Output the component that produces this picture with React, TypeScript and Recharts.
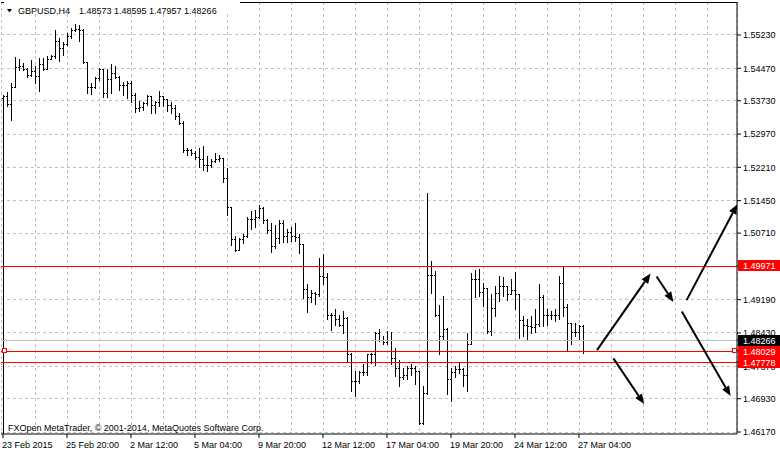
import React from 'react';
import { ComposedChart, Bar, XAxis, YAxis, CartesianGrid, ReferenceLine, ReferenceDot } from 'recharts';

const FONT = "'Liberation Sans', Arial, sans-serif";

const symbolTitle = 'GBPUSD,H4';
const lastBarQuote = '1.48573 1.48595 1.47957 1.48266';
const copyrightText = 'FXOpen MetaTrader, © 2001-2014, MetaQuotes Software Corp.';

// H4 bars, oldest first
const opens = [
  1.5379, 1.5382, 1.5365, 1.5404, 1.5449, 1.5451, 1.5445, 1.5430, 1.5439, 1.5429,
  1.5456, 1.5445, 1.5468, 1.5473, 1.5508, 1.5493, 1.5502, 1.5520, 1.5533, 1.5535,
  1.5533, 1.5460, 1.5404, 1.5404, 1.5424, 1.5445, 1.5390, 1.5422, 1.5436, 1.5427,
  1.5407, 1.5407, 1.5413, 1.5384, 1.5356, 1.5357, 1.5366, 1.5383, 1.5363, 1.5368,
  1.5382, 1.5375, 1.5363, 1.5356, 1.5336, 1.5322, 1.5259, 1.5259, 1.5252, 1.5244,
  1.5240, 1.5226, 1.5226, 1.5234, 1.5238, 1.5242, 1.5196, 1.5130, 1.5057, 1.5031,
  1.5057, 1.5064, 1.5101, 1.5102, 1.5107, 1.5126, 1.5099, 1.5078, 1.5040, 1.5059,
  1.5092, 1.5063, 1.5072, 1.5064, 1.5061, 1.5044, 1.4943, 1.4924, 1.4934, 1.4931,
  1.4972, 1.4969, 1.4884, 1.4882, 1.4873, 1.4861, 1.4877, 1.4794, 1.4733, 1.4732,
  1.4753, 1.4753, 1.4793, 1.4793, 1.4842, 1.4827, 1.4822, 1.4827, 1.4785, 1.4761,
  1.4741, 1.4747, 1.4761, 1.4761, 1.4755, 1.4637, 1.4705, 1.4975, 1.4974, 1.4882,
  1.4836, 1.4852, 1.4736, 1.4753, 1.4759, 1.4759, 1.4745, 1.4817, 1.4966, 1.4966,
  1.4936, 1.4945, 1.4846, 1.4898, 1.4934, 1.4949, 1.4949, 1.4930, 1.4941, 1.4930,
  1.4871, 1.4861, 1.4857, 1.4855, 1.4863, 1.4924, 1.4882, 1.4882, 1.4884, 1.4884,
  1.4956, 1.4901, 1.4865, 1.4845, 1.4845, 1.48573,
];
const highs = [
  1.5385, 1.5392, 1.5413, 1.5471, 1.5466, 1.5458, 1.5447, 1.5464, 1.5451, 1.5470,
  1.5470, 1.5473, 1.5476, 1.5534, 1.5514, 1.5506, 1.5527, 1.5537, 1.5547, 1.5544,
  1.5535, 1.5460, 1.5413, 1.5426, 1.5447, 1.5445, 1.5445, 1.5455, 1.5451, 1.5428,
  1.5414, 1.5418, 1.5418, 1.5390, 1.5371, 1.5369, 1.5386, 1.5383, 1.5371, 1.5394,
  1.5382, 1.5375, 1.5368, 1.5363, 1.5345, 1.5325, 1.5265, 1.5262, 1.5257, 1.5265,
  1.5268, 1.5245, 1.5239, 1.5253, 1.5249, 1.5242, 1.5219, 1.5130, 1.5064, 1.5059,
  1.5067, 1.5107, 1.5120, 1.5122, 1.5135, 1.5130, 1.5103, 1.5092, 1.5089, 1.5099,
  1.5099, 1.5080, 1.5084, 1.5093, 1.5067, 1.5044, 1.4953, 1.4939, 1.4936, 1.5012,
  1.5023, 1.4979, 1.4888, 1.4896, 1.4882, 1.4893, 1.4878, 1.4797, 1.4755, 1.4755,
  1.4772, 1.4793, 1.4797, 1.4845, 1.4852, 1.4835, 1.4846, 1.4845, 1.4808, 1.4781,
  1.4762, 1.4766, 1.4770, 1.4766, 1.4755, 1.4720, 1.5162, 1.5006, 1.4983, 1.4905,
  1.4926, 1.4854, 1.4762, 1.4766, 1.4776, 1.4762, 1.4842, 1.4979, 1.4985, 1.4989,
  1.4956, 1.4945, 1.4931, 1.4949, 1.4972, 1.4969, 1.4949, 1.4964, 1.4982, 1.4931,
  1.4880, 1.4873, 1.4880, 1.4896, 1.4953, 1.4928, 1.4896, 1.4892, 1.4896, 1.4972,
  1.4992, 1.4907, 1.4865, 1.4865, 1.4861, 1.48595,
];
const lows = [
  1.5363, 1.5359, 1.5327, 1.5403, 1.5443, 1.5441, 1.5426, 1.5428, 1.5413, 1.5395,
  1.5443, 1.5445, 1.5466, 1.5470, 1.5462, 1.5477, 1.5499, 1.5514, 1.5531, 1.5509,
  1.5458, 1.5390, 1.5388, 1.5400, 1.5420, 1.5380, 1.5380, 1.5390, 1.5424, 1.5397,
  1.5386, 1.5379, 1.5369, 1.5347, 1.5348, 1.5350, 1.5363, 1.5344, 1.5343, 1.5359,
  1.5359, 1.5348, 1.5345, 1.5331, 1.5318, 1.5254, 1.5249, 1.5248, 1.5238, 1.5221,
  1.5213, 1.5211, 1.5221, 1.5232, 1.5234, 1.5186, 1.5112, 1.5042, 1.5029, 1.5031,
  1.5048, 1.5061, 1.5080, 1.5084, 1.5105, 1.5092, 1.5069, 1.5026, 1.5036, 1.5048,
  1.5049, 1.5049, 1.5051, 1.5051, 1.5025, 1.4922, 1.4890, 1.4913, 1.4909, 1.4926,
  1.4953, 1.4873, 1.4848, 1.4861, 1.4857, 1.4842, 1.4777, 1.4709, 1.4698, 1.4728,
  1.4747, 1.4747, 1.4774, 1.4768, 1.4823, 1.4817, 1.4816, 1.4772, 1.4743, 1.4720,
  1.4736, 1.4736, 1.4747, 1.4726, 1.4635, 1.4635, 1.4702, 1.4934, 1.4880, 1.4795,
  1.4827, 1.4703, 1.4686, 1.4741, 1.4751, 1.4720, 1.4709, 1.4817, 1.4924, 1.4926,
  1.4903, 1.4842, 1.4838, 1.4880, 1.4914, 1.4926, 1.4916, 1.4930, 1.4896, 1.4831,
  1.4835, 1.4827, 1.4842, 1.4845, 1.4857, 1.4857, 1.4861, 1.4873, 1.4870, 1.4873,
  1.4880, 1.4802, 1.4817, 1.4835, 1.4827, 1.47957,
];
const closes = [
  1.5382, 1.5365, 1.5404, 1.5449, 1.5451, 1.5445, 1.5430, 1.5439, 1.5429, 1.5456,
  1.5445, 1.5468, 1.5473, 1.5508, 1.5493, 1.5502, 1.5520, 1.5533, 1.5535, 1.5533,
  1.5460, 1.5404, 1.5404, 1.5424, 1.5445, 1.5390, 1.5422, 1.5436, 1.5427, 1.5407,
  1.5407, 1.5413, 1.5384, 1.5356, 1.5357, 1.5366, 1.5383, 1.5363, 1.5368, 1.5382,
  1.5375, 1.5363, 1.5356, 1.5336, 1.5322, 1.5259, 1.5259, 1.5252, 1.5244, 1.5240,
  1.5226, 1.5226, 1.5234, 1.5238, 1.5242, 1.5196, 1.5130, 1.5057, 1.5031, 1.5057,
  1.5064, 1.5101, 1.5102, 1.5107, 1.5126, 1.5099, 1.5078, 1.5040, 1.5059, 1.5092,
  1.5063, 1.5072, 1.5064, 1.5061, 1.5044, 1.4943, 1.4924, 1.4934, 1.4931, 1.4972,
  1.4969, 1.4884, 1.4882, 1.4873, 1.4861, 1.4877, 1.4794, 1.4733, 1.4732, 1.4753,
  1.4753, 1.4793, 1.4793, 1.4842, 1.4827, 1.4822, 1.4827, 1.4785, 1.4761, 1.4741,
  1.4747, 1.4761, 1.4761, 1.4755, 1.4637, 1.4705, 1.4975, 1.4974, 1.4882, 1.4836,
  1.4852, 1.4736, 1.4753, 1.4759, 1.4759, 1.4745, 1.4817, 1.4966, 1.4966, 1.4936,
  1.4945, 1.4846, 1.4898, 1.4934, 1.4949, 1.4949, 1.4930, 1.4941, 1.4930, 1.4871,
  1.4861, 1.4857, 1.4855, 1.4863, 1.4924, 1.4882, 1.4882, 1.4884, 1.4884, 1.4956,
  1.4901, 1.4865, 1.4845, 1.4845, 1.4857, 1.48266,
];

const timeLabels = [
  '23 Feb 2015', '25 Feb 20:00', '2 Mar 12:00', '5 Mar 04:00', '9 Mar 20:00',
  '12 Mar 12:00', '17 Mar 04:00', '19 Mar 20:00', '24 Mar 12:00', '27 Mar 04:00',
];
const labelBars = [0, 16, 32, 48, 64, 80, 96, 112, 128, 144];
const gridBars = [8, 16, 24, 32, 40, 48, 56, 64, 72, 80, 88, 96, 104, 112, 120, 128, 136, 144, 152, 160, 168, 176];
const priceTicks = [1.5523, 1.5447, 1.5373, 1.5297, 1.5221, 1.5145, 1.5071, 1.4919, 1.4843, 1.4767, 1.4693, 1.4617];

const resistance = 1.49971;
const supportHigh = 1.48029;
const supportLow = 1.47778;
const bidPrice = 1.48266;

// price tags on the right scale (drawn after the plain tick labels so they sit on top)
const tagPrices = [resistance, bidPrice, supportHigh, supportLow];
const tagColors = ['#ff0000', '#000000', '#ff0000', '#ff0000'];

// drawn arrows: [bar position, price] start -> end
const arrowStarts = [[148.5, 1.4804], [163.4, 1.4972], [170.9, 1.4918], [169.7, 1.4892], [152.6, 1.4785]];
const arrowEnds = [[161.9, 1.4979], [167.6, 1.4914], [183.6, 1.5137], [181.9, 1.4699], [160.3, 1.4681]];

const SLOTS = 184; // bars plus the empty shift area on the right
const PRICE_MIN = 1.46125;
const PRICE_MAX = 1.55983;

const rows = Array.from({ length: SLOTS }, (_, i) =>
  i < opens.length
    ? { i, o: opens[i], h: highs[i], l: lows[i], c: closes[i], range: [lows[i], highs[i]] }
    : { i }
);

function OhlcBar(props: any) {
  const { x, y, width, height, payload } = props;
  if (!payload || payload.o === undefined) return null;
  const top = Math.min(y, y + height);
  const bottom = Math.max(y, y + height);
  const span = payload.h - payload.l;
  const toY = (v: number) => (span > 0 ? top + ((payload.h - v) / span) * (bottom - top) : top);
  const cx = Math.floor(x + width / 2);
  const t = Math.floor(top);
  const b = Math.floor(bottom);
  return (
    <g fill="#000" shapeRendering="crispEdges">
      <rect x={cx} y={t} width={1} height={Math.max(1, b - t + 1)} />
      <rect x={cx - 1} y={Math.floor(toY(payload.o))} width={1} height={1} />
      <rect x={cx + 1} y={Math.floor(toY(payload.c))} width={1} height={1} />
    </g>
  );
}

function ArrowShape(props: any) {
  const { x1, y1, x2, y2 } = props;
  const a = Math.atan2(y2 - y1, x2 - x1);
  const len = 10;
  const half = 4;
  const bx = x2 - len * Math.cos(a);
  const by = y2 - len * Math.sin(a);
  const pts = [
    `${x2},${y2}`,
    `${bx - half * Math.sin(a)},${by + half * Math.cos(a)}`,
    `${bx + half * Math.sin(a)},${by - half * Math.cos(a)}`,
  ].join(' ');
  return (
    <g>
      <line x1={x1} y1={y1} x2={bx} y2={by} stroke="#000" strokeWidth={2} />
      <polygon points={pts} fill="#000" />
    </g>
  );
}

// level line drawn as a crisp 1px stripe
function LevelShape(color: string) {
  return (p: any) => {
    const left = Math.min(p.x1, p.x2);
    const w = Math.abs(p.x2 - p.x1);
    const yy = Math.floor(p.y1 + 0.6);
    return <rect x={left} y={yy} width={w} height={1} fill={color} shapeRendering="crispEdges" />;
  };
}

function PriceTick(props: any) {
  const { x, y, payload } = props;
  const k = tagPrices.indexOf(payload.value);
  if (k >= 0) {
    const cy = Math.round(y);
    return (
      <g>
        <rect x={x - 5} y={cy - 5} width={43} height={11} fill={tagColors[k]} shapeRendering="crispEdges" />
        <text x={x} y={cy + 3.5} fill="#fff" fontSize={9} fontFamily={FONT}>
          {payload.value.toFixed(5)}
        </text>
      </g>
    );
  }
  return (
    <text x={x} y={y + 3.3} fill="#000" fontSize={9} fontFamily={FONT}>
      {payload.value.toFixed(5)}
    </text>
  );
}

function TimeTick(props: any) {
  const { x, y, payload } = props;
  const k = labelBars.indexOf(payload.value);
  return (
    <text x={x - 1} y={y + 7.5} textAnchor="start" fill="#000" fontSize={9} fontFamily={FONT}>
      {k >= 0 ? timeLabels[k] : ''}
    </text>
  );
}

const squareShape = (p: any) => (
  <rect x={Math.round(p.cx) - 2.5} y={Math.floor(p.cy + 0.6) - 2.5} width={4} height={4} fill="#fff" stroke="#ff0000" strokeWidth={1} />
);

export default function App() {
  return (
    <div style={{ position: 'absolute', left: 0, top: 0, width: 780, height: 453, background: '#fff', fontFamily: FONT }}>
      <ComposedChart width={780} height={453} data={rows} margin={{ top: 2, right: 0, bottom: 0, left: 1 }}>
        <XAxis xAxisId="n" type="number" dataKey="i" domain={[-0.5, SLOTS - 0.5]} ticks={gridBars} hide allowDataOverflow />
        <CartesianGrid xAxisId="n" stroke="#c0c0c0" strokeDasharray="3 3" shapeRendering="crispEdges" horizontalValues={priceTicks} />
        <XAxis
          dataKey="i"
          height={19}
          ticks={labelBars}
          interval={0}
          tick={<TimeTick />}
          tickSize={4}
          tickMargin={2}
          axisLine={{ stroke: '#000' }}
          tickLine={{ stroke: '#000' }}
        />
        <YAxis
          orientation="right"
          width={43}
          domain={[PRICE_MIN, PRICE_MAX]}
          allowDataOverflow
          ticks={[...priceTicks, ...tagPrices]}
          interval={0}
          tick={<PriceTick />}
          tickSize={4}
          tickMargin={2}
          axisLine={{ stroke: '#000' }}
          tickLine={{ stroke: '#000' }}
        />
        <ReferenceLine y={PRICE_MAX} stroke="#000" shapeRendering="crispEdges" />
        <ReferenceLine xAxisId="n" segment={[{ x: 0, y: highs[0] }, { x: 0, y: PRICE_MIN }]} stroke="#000" shapeRendering="crispEdges" />
        <Bar dataKey="range" shape={<OhlcBar />} barSize={3} isAnimationActive={false} />
        <ReferenceLine y={bidPrice} shape={LevelShape('#c0c0c0')} />
        <ReferenceLine y={supportHigh} shape={LevelShape('#ff0000')} />
        <ReferenceLine y={supportLow} shape={LevelShape('#ff0000')} />
        <ReferenceLine y={resistance} shape={LevelShape('#ff0000')} />
        <ReferenceDot xAxisId="n" x={0.5} y={supportHigh} shape={squareShape} />
        <ReferenceDot xAxisId="n" x={182.9} y={supportHigh} shape={squareShape} />
        {arrowStarts.map((s, k) => (
          <ReferenceLine
            key={k}
            xAxisId="n"
            ifOverflow="visible"
            segment={[{ x: s[0], y: s[1] }, { x: arrowEnds[k][0], y: arrowEnds[k][1] }]}
            shape={ArrowShape}
          />
        ))}
      </ComposedChart>
      <svg width={780} height={453} style={{ position: 'absolute', left: 0, top: 0, pointerEvents: 'none' }}>
        <rect x={4} y={0} width={236} height={14} fill="#fff" />
        <polygon points="7,9 12,9 9.5,12.5" fill="#000" />
        <text x={18} y={14} fontSize={9} fontFamily={FONT} fill="#000">{symbolTitle}</text>
        <text x={79} y={14} fontSize={9} fontFamily={FONT} fill="#000">{lastBarQuote}</text>
        <text x={8} y={431} fontSize={9} fontFamily={FONT} fill="#000">{copyrightText}</text>
      </svg>
    </div>
  );
}
